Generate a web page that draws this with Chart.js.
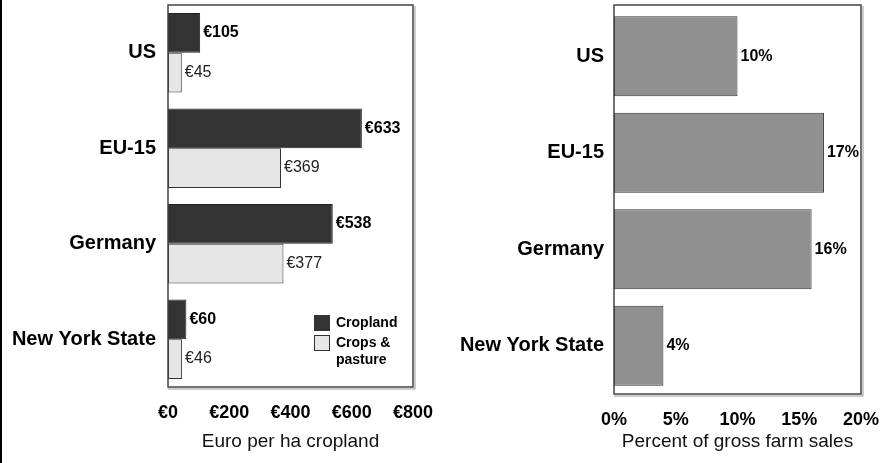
<!DOCTYPE html>
<html>
<head>
<meta charset="utf-8">
<script src="https://cdn.jsdelivr.net/npm/chart.js@4/dist/chart.umd.min.js"></script>
<style>
  body { margin: 0; background: #fff; }
  .wrap { position: relative; width: 882px; height: 463px; }
  .edge { position: absolute; left: 0; top: 0; width: 2px; height: 463px; background: #000; }
  .box { position: absolute; top: 0; width: 441px; height: 463px; }
  #left { left: 0; }
  #right { left: 441px; }
</style>
</head>
<body>
<div class="wrap">
  <div class="box" id="left"><canvas id="payChart"></canvas></div>
  <div class="box" id="right"><canvas id="shareChart"></canvas></div>
  <div class="edge"></div>
</div>
<script>
const regions = ['US', 'EU-15', 'Germany', 'New York State'];
const croplandEuro = [105, 633, 538, 60];
const pastureEuro = [45, 369, 377, 46];
const salesShare = [10, 17, 16, 4];
const euroTicks = [0, 200, 400, 600, 800];
const shareTicks = [0, 5, 10, 15, 20];

const FONT = '"Liberation Sans", Arial, sans-serif';
Chart.defaults.font.family = FONT;
Chart.defaults.color = '#000';

// frame around the plot area (extraTop lifts the top edge a little)
function makeFrame(extraTop) {
  return {
    id: 'frame',
    afterDraw(chart) {
      const { ctx, chartArea: a } = chart;
      const top = a.top - extraTop;
      ctx.save();
      ctx.strokeStyle = '#444';
      ctx.lineWidth = 1.5;
      ctx.strokeRect(a.left, top, a.right - a.left, a.bottom - top);
      ctx.strokeStyle = '#999';
      ctx.lineWidth = 1;
      ctx.beginPath();
      ctx.moveTo(a.left, a.bottom + 2);
      ctx.lineTo(a.right + 2, a.bottom + 2);
      ctx.lineTo(a.right + 2, top + 1);
      ctx.stroke();
      ctx.restore();
    },
  };
}

// value labels at the end of every bar
const valueLabels = {
  id: 'valueLabels',
  afterDatasetsDraw(chart) {
    const { ctx } = chart;
    ctx.save();
    chart.data.datasets.forEach((ds, i) => {
      chart.getDatasetMeta(i).data.forEach((bar, j) => {
        ctx.font = (ds.labelBold ? 'bold ' : '') + '16px ' + FONT;
        ctx.fillStyle = ds.labelColor || '#000';
        ctx.textAlign = 'left';
        ctx.textBaseline = 'middle';
        ctx.fillText(ds.fmt(ds.data[j]), bar.x + 3, bar.y);
      });
    });
    ctx.restore();
  },
};

// legend box in the lower right corner of the left plot
const cornerLegend = {
  id: 'cornerLegend',
  afterDraw(chart) {
    const { ctx, chartArea: a } = chart;
    const x = a.right - 99;
    let y = a.bottom - 72;
    ctx.save();
    ctx.font = 'bold 14px ' + FONT;
    ctx.textBaseline = 'middle';
    ctx.textAlign = 'left';
    chart.data.datasets.forEach((ds) => {
      ctx.fillStyle = ds.backgroundColor;
      ctx.strokeStyle = '#333';
      ctx.lineWidth = 1;
      ctx.fillRect(x, y, 15, 15);
      ctx.strokeRect(x + 0.5, y + 0.5, 15, 15);
      ctx.fillStyle = '#000';
      ds.legendLines.forEach((line, k) => {
        ctx.fillText(line, x + 22, y + 8 + k * 17);
      });
      y += 20;
    });
    ctx.restore();
  },
};

function axisTitle(text) {
  return {
    display: true,
    text,
    font: { size: 19 },
    color: '#111',
    padding: { top: 0, bottom: 10 },
  };
}

function fixY(width) {
  return (axis) => {
    axis.width = width;
    axis.paddingTop = 0;
    axis.paddingBottom = 0;
  };
}

function fixX(height) {
  return (axis) => {
    axis.height = height;
    axis.paddingLeft = 0;
    axis.paddingRight = 0;
  };
}

new Chart(document.getElementById('payChart'), {
  type: 'bar',
  data: {
    labels: regions,
    datasets: [
      {
        label: 'Cropland',
        legendLines: ['Cropland'],
        data: croplandEuro,
        backgroundColor: '#333333',
        borderColor: '#222',
        borderWidth: 1,
        borderSkipped: false,
        categoryPercentage: 0.83,
        barPercentage: 1.0,
        labelBold: true,
        fmt: (v) => '€' + v,
      },
      {
        label: 'Crops & pasture',
        legendLines: ['Crops &', 'pasture'],
        data: pastureEuro,
        backgroundColor: '#e6e6e6',
        borderColor: '#333',
        borderWidth: 1,
        borderSkipped: false,
        categoryPercentage: 0.83,
        barPercentage: 1.0,
        labelBold: false,
        labelColor: '#222',
        fmt: (v) => '€' + v,
      },
    ],
  },
  options: {
    indexAxis: 'y',
    responsive: true,
    maintainAspectRatio: false,
    animation: false,
    layout: { padding: { top: 5, right: 28, bottom: 0, left: 0 } },
    plugins: { legend: { display: false }, tooltip: { enabled: false } },
    scales: {
      x: {
        min: 0,
        max: 800,
        afterBuildTicks: (axis) => { axis.ticks = euroTicks.map((v) => ({ value: v })); },
        afterFit: fixX(76),
        grid: { display: false, drawTicks: false },
        border: { display: false },
        ticks: { font: { size: 18, weight: 'bold' }, padding: 15, callback: (v) => '€' + v },
        title: axisTitle('Euro per ha cropland'),
      },
      y: {
        afterFit: fixY(168),
        grid: { display: false, drawTicks: false },
        border: { display: false },
        ticks: { font: { size: 20, weight: 'bold' }, padding: 12 },
      },
    },
  },
  plugins: [makeFrame(0), valueLabels, cornerLegend],
});

new Chart(document.getElementById('shareChart'), {
  type: 'bar',
  data: {
    labels: regions,
    datasets: [
      {
        label: 'Percent of gross farm sales',
        data: salesShare,
        backgroundColor: '#909090',
        borderColor: '#333',
        borderWidth: 1,
        borderSkipped: false,
        categoryPercentage: 0.83,
        barPercentage: 1.0,
        labelBold: true,
        fmt: (v) => v + '%',
      },
    ],
  },
  options: {
    indexAxis: 'y',
    responsive: true,
    maintainAspectRatio: false,
    animation: false,
    layout: { padding: { top: 8, right: 21, bottom: 0, left: 0 } },
    plugins: { legend: { display: false }, tooltip: { enabled: false } },
    scales: {
      x: {
        min: 0,
        max: 20,
        afterBuildTicks: (axis) => { axis.ticks = shareTicks.map((v) => ({ value: v })); },
        afterFit: fixX(69),
        grid: { display: false, drawTicks: false },
        border: { display: false },
        ticks: { font: { size: 18, weight: 'bold' }, padding: 15, callback: (v) => v + '%' },
        title: axisTitle('Percent of gross farm sales'),
      },
      y: {
        afterFit: fixY(173),
        grid: { display: false, drawTicks: false },
        border: { display: false },
        ticks: { font: { size: 20, weight: 'bold' }, padding: 10 },
      },
    },
  },
  plugins: [makeFrame(3), valueLabels],
});
</script>
</body>
</html>
